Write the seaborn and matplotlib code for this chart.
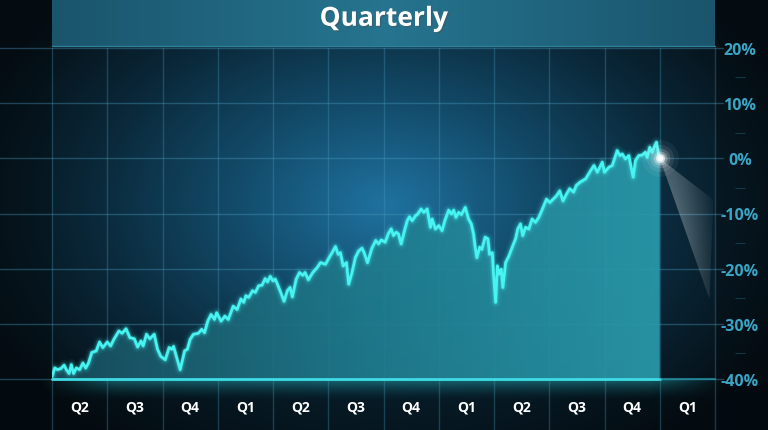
import numpy as np
import matplotlib.pyplot as plt
import seaborn as sns
from matplotlib.colors import LinearSegmentedColormap, to_rgb
from matplotlib.patches import Rectangle, Polygon
import matplotlib.patheffects as pe

# quarters elapsed since the first Q2, and change in %
quarter_pos = [
    0.00, 0.05, 0.10, 0.16, 0.22, 0.26, 0.31, 0.35, 0.39, 0.44, 0.50, 0.56, 0.61, 0.66,
    0.72, 0.80, 0.86, 0.92, 1.00, 1.06, 1.12, 1.21, 1.27, 1.34, 1.41, 1.49, 1.55, 1.61,
    1.65, 1.71, 1.77, 1.85, 1.91, 1.97, 2.05, 2.12, 2.17, 2.20, 2.24, 2.32, 2.40, 2.45,
    2.50, 2.56, 2.65, 2.71, 2.76, 2.82, 2.88, 2.94, 2.98, 3.06, 3.13, 3.19, 3.28, 3.35,
    3.42, 3.47, 3.51, 3.56, 3.63, 3.68, 3.74, 3.80, 3.86, 3.90, 3.95, 4.00, 4.04, 4.08,
    4.14, 4.20, 4.26, 4.31, 4.35, 4.42, 4.48, 4.54, 4.58, 4.64, 4.72, 4.80, 4.86, 4.95,
    5.01, 5.07, 5.13, 5.18, 5.22, 5.27, 5.33, 5.37, 5.43, 5.49, 5.55, 5.61, 5.65, 5.71,
    5.79, 5.86, 5.91, 5.96, 6.03, 6.09, 6.14, 6.18, 6.23, 6.27, 6.32, 6.38, 6.43, 6.47,
    6.52, 6.58, 6.62, 6.68, 6.73, 6.79, 6.85, 6.88, 6.94, 7.00, 7.06, 7.11, 7.18, 7.23,
    7.27, 7.31, 7.36, 7.41, 7.48, 7.54, 7.59, 7.63, 7.66, 7.69, 7.74, 7.78, 7.84, 7.89,
    7.92, 7.97, 7.99, 8.03, 8.06, 8.09, 8.13, 8.16, 8.21, 8.27, 8.33, 8.39, 8.43, 8.48,
    8.52, 8.57, 8.63, 8.69, 8.75, 8.81, 8.85, 8.90, 8.95, 9.01, 9.07, 9.13, 9.19, 9.25,
    9.31, 9.37, 9.44, 9.49, 9.56, 9.61, 9.66, 9.75, 9.81, 9.87, 9.96, 10.00, 10.08, 10.14,
    10.18, 10.23, 10.28, 10.32, 10.38, 10.44, 10.52, 10.56, 10.62, 10.68, 10.74, 10.77,
    10.82, 10.86, 10.91, 10.94, 10.99, 11.00,
]
pct_change = [
    -39.6, -38.0, -38.3, -38.1, -37.5, -38.3, -39.0, -37.4, -39.0, -38.0, -38.3, -37.1, -38.0, -37.1,
    -35.2, -34.9, -33.3, -34.3, -33.3, -34.0, -32.8, -31.3, -31.7, -30.9, -32.5, -32.7, -34.2, -33.1,
    -34.0, -31.9, -32.7, -31.9, -34.6, -35.9, -36.5, -34.3, -34.6, -34.1, -35.5, -38.3, -34.9, -34.6,
    -32.8, -31.9, -31.7, -31.0, -31.6, -29.5, -28.3, -29.2, -28.0, -29.5, -28.6, -29.2, -26.8, -27.4,
    -25.5, -26.1, -24.9, -25.2, -24.0, -24.3, -23.1, -23.0, -21.8, -22.4, -21.4, -22.2, -21.9, -22.8,
    -24.3, -25.9, -24.0, -23.4, -25.1, -21.9, -20.7, -21.2, -20.7, -22.0, -20.7, -19.8, -18.9, -19.2,
    -18.1, -17.1, -16.0, -17.4, -17.1, -19.5, -18.9, -22.8, -20.7, -18.0, -16.8, -16.3, -17.1, -18.9,
    -16.3, -14.9, -15.5, -14.8, -15.2, -13.6, -12.8, -14.0, -13.4, -13.7, -15.5, -13.1, -11.3, -10.6,
    -11.3, -10.4, -10.1, -9.2, -9.8, -9.2, -12.5, -11.0, -12.8, -12.2, -13.1, -11.3, -9.4, -10.1,
    -9.4, -10.7, -9.8, -10.2, -8.9, -11.0, -11.9, -13.7, -16.1, -18.0, -16.1, -16.5, -14.3, -14.6,
    -17.4, -17.1, -20.7, -26.1, -19.5, -21.0, -20.1, -23.4, -18.9, -17.7, -16.1, -14.6, -12.8, -11.9,
    -14.0, -12.5, -12.8, -11.0, -11.6, -10.7, -9.8, -8.6, -7.4, -8.0, -7.4, -6.8, -5.9, -7.7,
    -6.5, -5.5, -6.1, -4.9, -4.3, -4.0, -3.7, -2.2, -1.3, -2.5, -0.7, -2.5, -1.6, -1.3,
    -0.1, 1.4, 0.5, 0.8, -0.1, 0.5, -3.4, -0.4, 0.5, 0.6, 1.1, 0.2,
    2.0, 1.1, 2.3, 2.9, 0.2, 0.0,
]

quarter_labels = ['Q2', 'Q3', 'Q4', 'Q1', 'Q2', 'Q3', 'Q4', 'Q1', 'Q2', 'Q3', 'Q4', 'Q1']
y_ticks = [-40, -30, -20, -10, 0, 10, 20]
y_minor = [-35, -25, -15, -5, 5, 15]

W, H = 768, 431
sns.set_theme(style="dark")
plt.rcParams['font.family'] = ['Open Sans', 'DejaVu Sans']

fig = plt.figure(figsize=(W / 100, H / 100), dpi=100)
fig.patch.set_facecolor('#061017')

# background glow (pixel coordinates)
bg = fig.add_axes([0, 0, 1, 1], zorder=0)
bg.set_axis_off()
yy, xx = np.mgrid[0:H, 0:W]
dist = np.sqrt(((xx - 385) / 440.0) ** 2 + ((yy - 205) / 300.0) ** 2)
bg_cmap = LinearSegmentedColormap.from_list('bg', ['#1f72a0', '#134c6b', '#0a2839', '#050d13'])
bg.imshow(np.clip(dist, 0, 1), cmap=bg_cmap, vmin=0, vmax=1, extent=(0, W, H, 0), aspect='auto')
bg.add_patch(Rectangle((0, 0), 52, H, color='#030a0e', alpha=0.35, lw=0))
bg.add_patch(Rectangle((715, 0), W - 715, H, color='#030a0e', alpha=0.4, lw=0))
bg.add_patch(Rectangle((0, 382), W, H - 382, color='#030a0e', alpha=0.45, lw=0))

# title bar
bar = np.abs(np.linspace(-1, 1, 256)).reshape(1, -1)
bar_cmap = LinearSegmentedColormap.from_list('bar', ['#26748f', '#1a556c'])
bg.imshow(bar, cmap=bar_cmap, extent=(52, 715, 47, 0), aspect='auto', zorder=2)
bg.plot([52, 715], [46.5, 46.5], color='#2e7f98', lw=1, zorder=3)

# glow under the baseline
glow = np.zeros((40, 300, 4))
glow[..., :3] = to_rgb('#2ccfdc')
fade_y = np.linspace(0.55, 0, 40).reshape(-1, 1) ** 1.6
fade_x = np.clip(np.sin(np.linspace(0, np.pi, 300)) * 3, 0, 1).reshape(1, -1)
glow[..., 3] = fade_y * fade_x
bg.imshow(glow, extent=(40, 725, 402, 381), aspect='auto', zorder=2)
bg.set_xlim(0, W)
bg.set_ylim(H, 0)

# main axes
ax = fig.add_axes([52 / W, (H - 380) / H, 663 / W, 331 / H], zorder=1)
ax.patch.set_alpha(0)
for s in ax.spines.values():
    s.set_visible(False)

t = np.array(quarter_pos)
v = np.array(pct_change)

# grid
for q in range(len(quarter_labels) + 1):
    ax.axvline(q, ymin=-51 / 331, ymax=1, color='#4a9cc0', alpha=0.32, lw=1, clip_on=False, zorder=1)
for y in y_ticks:
    ax.axhline(y, xmin=-52 / 663, xmax=1 + 8 / 663, color='#4a9cc0', alpha=0.38, lw=1, clip_on=False, zorder=1)

# area fill with horizontal gradient
area = ax.fill_between(t, v, -40, color='none', lw=0)
grad = np.linspace(0, 1, 256).reshape(1, -1)
fill_cmap = LinearSegmentedColormap.from_list('fill', ['#184f5f', '#1f7a8c', '#2a9cad'])
im = ax.imshow(grad, cmap=fill_cmap, extent=(0, 11, -40, 5), aspect='auto', alpha=0.92, zorder=2)
im.set_clip_path(area.get_paths()[0], transform=ax.transData)

# line with glow
for lw, a in [(8, 0.06), (5, 0.14), (3.2, 0.25)]:
    ax.plot(t, v, color='#3ff5f2', lw=lw, alpha=a, zorder=3, solid_joinstyle='round')
sns.lineplot(x=t, y=v, ax=ax, color='#48f4f1', lw=2.0, zorder=4)

# baseline
ax.plot([0, 11], [-40, -40], color='#3fdbe4', lw=2, zorder=5, clip_on=False)
ax.plot([11, 12], [-40, -40], color='#2ab0c0', lw=1.5, alpha=0.6, zorder=5, clip_on=False)

# light beam from last point
end_x, end_y = t[-1], v[-1]
beam = Polygon([(end_x, end_y), (11.97, -7.5), (11.9, -25.5)], closed=True, fc='none', ec='none')
ax.add_patch(beam)
by, bx = np.mgrid[0:1:100j, 0:1:100j]
beam_img = np.zeros((100, 100, 4))
beam_img[..., :3] = 1.0
beam_img[..., 3] = 0.6 * (1 - np.sqrt(bx ** 2 + (by * 0.6) ** 2) / 1.2).clip(0, 1) ** 1.4
bim = ax.imshow(beam_img, extent=(end_x, 12, end_y, -26), aspect='auto', zorder=3)
bim.set_clip_path(beam)
for s, a in [(700, 0.05), (380, 0.09), (200, 0.16), (100, 0.3), (45, 0.6), (18, 1.0)]:
    ax.scatter([end_x], [end_y], s=s, color='white', alpha=a, lw=0, zorder=6)

ax.set_xlim(0, 12)
ax.set_ylim(-40, 20)

# y axis on the right
ax.yaxis.tick_right()
ax.set_yticks(y_ticks)
ax.set_yticklabels([f'{y}%' for y in y_ticks])
ax.set_yticks(y_minor, minor=True)
ax.set_yticklabels(['—'] * len(y_minor), minor=True)
ax.tick_params(axis='y', which='major', length=0, pad=18, labelsize=11.5, labelcolor='#3aa4c4')
ax.tick_params(axis='y', which='minor', length=0, pad=18, labelsize=8, labelcolor='#1b4658')
plt.setp(ax.get_yticklabels(), ha='center', fontweight='bold')
plt.setp(ax.get_yticklabels(minor=True), ha='center')

# quarter labels
ax.set_xticks([])
ax.set_xticks(np.arange(len(quarter_labels)) + 0.5, minor=True)
ax.set_xticklabels(quarter_labels, minor=True)
ax.tick_params(axis='x', which='minor', length=0, pad=15, labelsize=10, labelcolor='white')
plt.setp(ax.get_xticklabels(minor=True), fontweight='bold')
ax.set_xlabel('')
ax.set_ylabel('')

ax.set_title('Quarterly', color='white', fontsize=19, fontweight='bold', pad=16,
             path_effects=[pe.withSimplePatchShadow(offset=(1, -1), alpha=0.4)])

fig.savefig('out.png', dpi=100, facecolor=fig.get_facecolor())
